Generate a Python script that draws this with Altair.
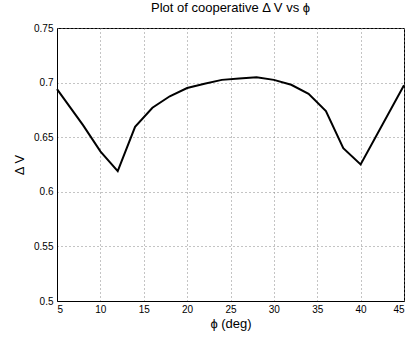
import altair as alt
import pandas as pd

phi_deg = [5, 8, 10, 12, 14, 16, 18, 20, 22, 24, 26, 28, 30, 32, 34, 36, 38, 40, 45]
delta_v = [0.694, 0.661, 0.637, 0.619, 0.6595, 0.677, 0.6875, 0.695, 0.699, 0.7025,
           0.7037, 0.7049, 0.7025, 0.698, 0.6897, 0.674, 0.640, 0.625, 0.6975]

x_ticks = [5, 10, 15, 20, 25, 30, 35, 40, 45]
y_ticks = [0.5, 0.55, 0.6, 0.65, 0.7, 0.75]

df = pd.DataFrame({"phi": phi_deg, "dv": delta_v})

FONT = "Liberation Sans"

chart = alt.Chart(df).mark_line(color="black", strokeWidth=2).encode(
    x=alt.X("phi:Q",
            scale=alt.Scale(domain=[5, 45], nice=False, zero=False),
            axis=alt.Axis(values=x_ticks, title="ϕ (deg)", format="~g",
                          labelPadding=3, titlePadding=3)),
    y=alt.Y("dv:Q",
            scale=alt.Scale(domain=[0.5, 0.75], nice=False, zero=False),
            axis=alt.Axis(values=y_ticks, title="Δ V", format="~g",
                          labelPadding=4, titlePadding=7)),
).properties(
    width=347,
    height=273,
    background="white",
    title=alt.TitleParams("Plot of cooperative Δ V vs ϕ", fontSize=13,
                          fontWeight="normal", font=FONT, color="black", offset=8),
    autosize=alt.AutoSizeParams(type="none"),
    padding={"left": 57, "top": 28, "right": 5, "bottom": 36},
).configure_view(
    stroke="black", strokeWidth=1
).configure_axis(
    grid=True, gridColor="#888888", gridDash=[1, 3], gridWidth=1,
    domain=True, domainColor="black", domainWidth=1,
    ticks=False,
    labelFont=FONT, labelFontSize=10, labelColor="black",
    titleFont=FONT, titleFontSize=13, titleFontWeight="normal", titleColor="black",
)

chart.save("out.html", embed_options={"renderer": "svg", "actions": False})
